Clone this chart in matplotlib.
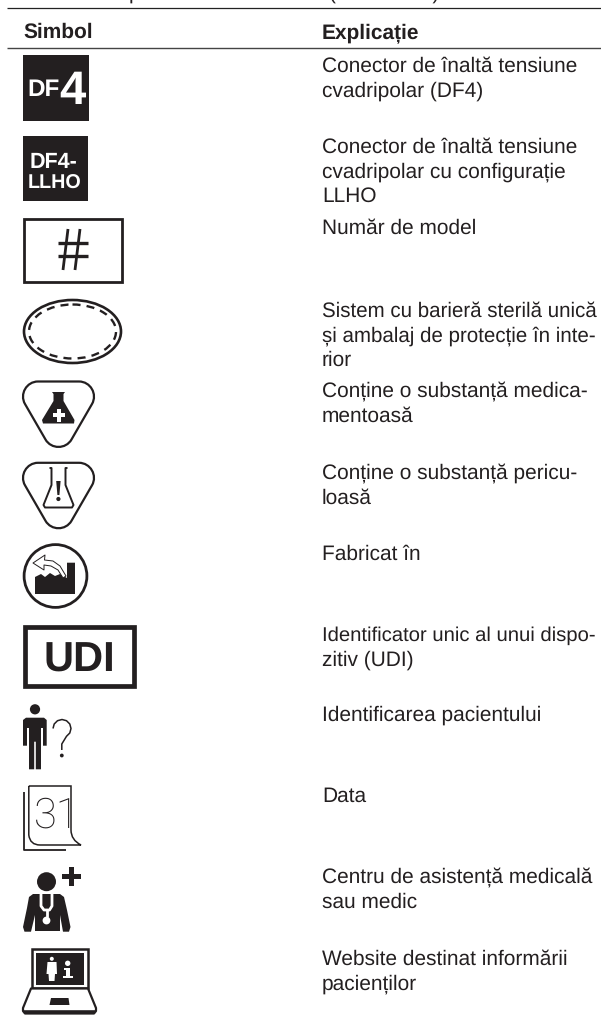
import numpy as np
import matplotlib
matplotlib.use('Agg')
import matplotlib.pyplot as plt
from matplotlib.patches import Rectangle, Circle, Ellipse, PathPatch
from matplotlib.path import Path

plt.rcParams['font.family'] = ['Liberation Sans', 'DejaVu Sans']
plt.rcParams['text.hinting'] = 'none'

# Continutul tabelului
headers = ['Simbol', 'Explicație']
explanations = [
    ['Conector de înaltă tensiune', 'cvadripolar (DF4)'],
    ['Conector de înaltă tensiune', 'cvadripolar cu configurație', 'LLHO'],
    ['Număr de model'],
    ['Sistem cu barieră sterilă unică', 'și ambalaj de protecție în inte-', 'rior'],
    ['Conține o substanță medica-', 'mentoasă'],
    ['Conține o substanță pericu-', 'loasă'],
    ['Fabricat în'],
    ['Identificator unic al unui dispo-', 'zitiv (UDI)'],
    ['Identificarea pacientului'],
    ['Data'],
    ['Centru de asistență medicală', 'sau medic'],
    ['Website destinat informării', 'pacienților'],
]
first_baselines = [71.7, 152.8, 234, 316.7, 397, 479, 560, 641, 721, 802, 883, 965]
LEADING = 24.7
FS = 15.05
# randurile lungi sunt mai stranse in original
tight_lines = {'Sistem cu barieră sterilă unică': 14.8, 'și ambalaj de protecție în inte-': 14.8,
               'Identificator unic al unui dispo-': 14.6}
INK = '#231f20'

fig = plt.figure(figsize=(6.01, 10.19), dpi=100)
ax = fig.add_axes([0, 0, 1, 1])
ax.set_xlim(0, 601)
ax.set_ylim(1019, 0)
ax.axis('off')


def poly(points, fc=INK, ec='none', lw=0, closed=True, z=2):
    ax.add_patch(plt.Polygon(points, closed=closed, fc=fc, ec=ec, lw=lw, zorder=z, joinstyle='round'))


def line(xs, ys, lw=1.5, color=INK, z=3, **kw):
    ax.plot(xs, ys, color=color, lw=lw, zorder=z, solid_capstyle=kw.pop('cap', 'butt'), **kw)


def rounded_triangle(a, b, c, d):
    # triunghi cu colturi rotunjite
    verts, codes = [], []
    pts = [np.array(p, float) for p in (a, b, c)]
    for i in range(3):
        prev, cur, nxt = pts[i - 1], pts[i], pts[(i + 1) % 3]
        p1 = cur + (prev - cur) / np.linalg.norm(prev - cur) * d
        p2 = cur + (nxt - cur) / np.linalg.norm(nxt - cur) * d
        verts += [p1, cur + (p1 - cur) * 0.56, cur + (p2 - cur) * 0.56, p2]
        codes += [Path.MOVETO if i == 0 else Path.LINETO, Path.CURVE4, Path.CURVE4, Path.CURVE4]
    verts.append(verts[0])
    codes.append(Path.CLOSEPOLY)
    ax.add_patch(PathPatch(Path(verts, codes), fc='white', ec=INK, lw=1.6, zorder=2))


# Text fragmentar de sus
ax.text(129, -1, 'p', fontsize=FS, color=INK, va='baseline')
ax.text(329, -1, '(continuare)', fontsize=FS, color=INK, va='baseline')

# Linii tabel
line([7, 601], [7.6, 7.6], lw=0.9, color='#222222')
line([7, 601], [47.8, 47.8], lw=1.0, color='#444444')
ax.text(23, 38, headers[0], fontsize=FS, fontweight='bold', color=INK, va='baseline')
ax.text(322, 38, headers[1], fontsize=FS, fontweight='bold', color=INK, va='baseline')

for base, lines in zip(first_baselines, explanations):
    for i, txt in enumerate(lines):
        ax.text(322, base + i * LEADING, txt, fontsize=tight_lines.get(txt, FS), color=INK, va='baseline')

# DF4
ax.add_patch(Rectangle((22.5, 55), 66, 65.5, fc=INK, ec='none'))
ax.text(27.5, 96, 'DF', fontsize=17.5, fontweight='bold', color='white', va='baseline', zorder=3)
ax.text(59, 104, '4', fontsize=34, fontweight='bold', color='white', va='baseline', zorder=3)

# DF4-LLHO
ax.add_patch(Rectangle((23, 136), 65, 65, fc=INK, ec='none'))
ax.text(29.5, 168, 'DF4-', fontsize=15.5, fontweight='bold', color='white', va='baseline', zorder=3)
ax.text(28, 189, 'LLHO', fontsize=14.2, fontweight='bold', color='white', va='baseline', zorder=3)

# Numar de model
ax.add_patch(Rectangle((24.2, 219.2), 97.6, 62.6, fc='white', ec=INK, lw=2.0))
line([63, 68], [270, 229], lw=2.0)
line([75, 80], [270, 229], lw=2.0)
line([58, 88], [243, 243], lw=2.4)
line([58, 88], [255.5, 255.5], lw=2.4)

# Sistem bariera sterila
ax.add_patch(Ellipse((72.5, 331.5), 97, 63, fc='white', ec=INK, lw=1.9))
ax.add_patch(Ellipse((72.5, 331.5), 87, 54, fc='none', ec=INK, lw=1.7, ls=(0, (3.4, 2.6))))

# Substanta medicamentoasa
rounded_triangle((12, 381.5), (105, 381.5), (58.5, 462), 26)
poly([(52, 392), (65, 392), (63.5, 394), (63.5, 401), (74.5, 420), (74, 423.5), (43, 423.5), (42, 420),
      (53.5, 401), (53.5, 394)])
ax.add_patch(Rectangle((56.5, 409), 4.4, 12.5, fc='white', ec='none', zorder=3))
ax.add_patch(Rectangle((52.5, 413), 12.5, 4.4, fc='white', ec='none', zorder=3))

# Substanta periculoasa
rounded_triangle((12, 462.8), (105, 462.8), (58.5, 543.3), 26)
poly([(49.5, 468), (51.5, 468), (51.5, 485), (43.5, 505), (45, 507.5), (72, 507.5), (73.5, 505), (65.5, 485),
      (65.5, 468), (67.5, 468)], fc='none', ec=INK, lw=1.4, closed=False, z=3)
poly([(56.2, 481), (60.6, 481), (59.4, 495), (57.4, 495)], z=3)
ax.add_patch(Circle((58.4, 499), 2.1, fc=INK, ec='none', zorder=3))

# Fabricat in
ax.add_patch(Circle((55.5, 576), 31.4, fc='white', ec=INK, lw=2.0))
poly([(35, 594), (35, 577), (41, 574), (45, 577), (50, 573), (55, 576), (60, 574), (67, 578), (67, 562.7),
      (75, 562.7), (75, 594)])
poly([(63, 578), (58, 570), (51, 566), (44, 565), (44, 570), (33, 563), (45, 555), (44.5, 560), (53, 561),
      (60, 566), (66, 576)], fc='white', ec=INK, lw=0.7, z=3)

# UDI
ax.add_patch(Rectangle((24.8, 626.8), 108.9, 58.8, fc='white', ec=INK, lw=3.4))
ax.text(79.5, 671.7, 'UDI', fontsize=30, fontweight='bold', color=INK, ha='center', va='baseline', zorder=3)

# Identificare pacient
ax.add_patch(Circle((35, 709.3), 5.1, fc=INK, ec='none'))
poly([(26, 717.7), (44, 717.7), (46.7, 720), (46.7, 745.7), (43, 745.7), (43, 728), (41, 728), (41, 769.3),
      (35.8, 769.3), (35.8, 741.7), (34.2, 741.7), (34.2, 769.3), (29, 769.3), (29, 728), (27, 728), (27, 745.7),
      (23, 745.7), (23, 720)])
t = np.radians(np.array([180, 150, 120, 90, 60, 30, 0, -30, -60]))
line(list(62 + 9 * np.cos(t)) + [61.8, 61.8], list(728.5 - 9 * np.sin(t)) + [744, 750], lw=1.1)
ax.add_patch(Circle((61.8, 755.5), 1.9, fc=INK, ec='none'))

# Data
line([23.6, 23.6, 65.5], [791.7, 850, 850], lw=1.3)
cal = Path([(28.8, 786), (71, 786), (71, 830), (71, 840), (81, 845), (40, 845), (30, 845), (28.8, 835), (28.8, 786)],
           [Path.MOVETO, Path.LINETO, Path.LINETO, Path.CURVE3, Path.CURVE3, Path.LINETO, Path.CURVE3, Path.CURVE3,
            Path.LINETO])
ax.add_patch(PathPatch(cal, fc='none', ec=INK, lw=1.1))
ax.text(34, 828, '31', fontsize=30, family='Roboto', fontweight='light', color=INK, va='baseline')

# Centru / medic
ax.add_patch(Circle((46.5, 881.7), 9.5, fc=INK, ec='none'))
ax.add_patch(Rectangle((69, 867), 5, 19, fc=INK, ec='none'))
ax.add_patch(Rectangle((62.2, 873.5), 19, 5, fc=INK, ec='none'))
poly([(33, 894), (60, 894), (64, 897), (67, 910), (70.5, 927), (69, 931.7), (63, 931.7), (60, 915), (60, 931),
      (35, 931), (35, 915), (31, 931.7), (24.5, 931.7), (23, 927), (27, 908), (29, 897)])
line([41, 41, 44, 49.5, 52, 52], [894, 906, 910, 910, 906, 894], lw=2.0, color='white')
line([46.5, 46.5], [910, 917], lw=2.0, color='white')
ax.add_patch(Circle((46.5, 920.5), 3.9, fc='white', ec='none', zorder=4))

# Website pacienti
ax.add_patch(plt.Rectangle((32, 949), 55.5, 39, fc='white', ec=INK, lw=1.8, zorder=2))
ax.add_patch(Rectangle((35.8, 953), 48, 31.5, fc=INK, ec='none', zorder=3))
poly([(31, 988.5), (88, 988.5), (96, 1008), (96, 1011), (94, 1013.5), (25, 1013.5), (23, 1011), (23, 1008)],
     fc='white', ec=INK, lw=1.6)
line([24, 95], [1012, 1012], lw=2.6)
poly([(51, 998), (68.5, 998), (69.5, 1005), (49.5, 1005)], z=3)
ax.add_patch(Circle((51.8, 958.8), 2, fc='white', ec='none', zorder=4))
poly([(47.5, 962), (56.5, 962), (57, 974), (55, 974), (54.5, 981), (49, 981), (48.5, 974), (46.5, 974)], fc='white', z=4)
ax.add_patch(Circle((67.7, 963.3), 2.7, fc='white', ec='none', zorder=4))
poly([(63.5, 968), (70, 968), (70, 975.5), (72.5, 975.5), (72.5, 977.5), (63, 977.5), (63, 975.5), (65.5, 975.5),
      (65.5, 970), (63.5, 970)], fc='white', z=4)

plt.savefig('out.png', dpi=100)
plt.close()
